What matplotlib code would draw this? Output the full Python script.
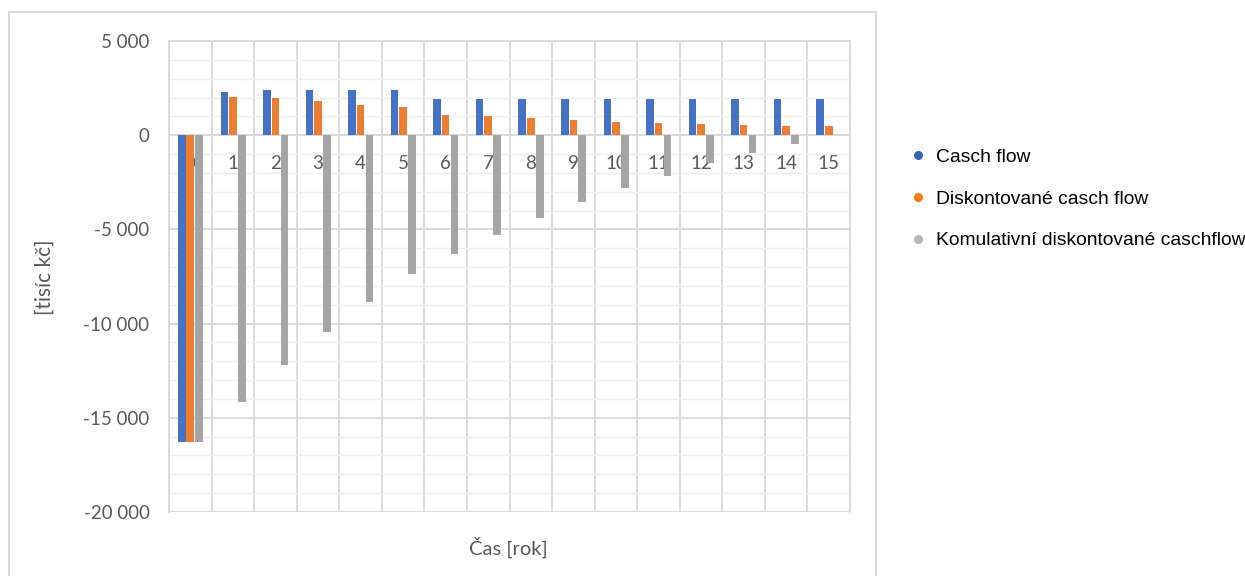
import matplotlib
matplotlib.use("Agg")
import matplotlib.pyplot as plt
import numpy as np
from matplotlib.ticker import MultipleLocator, FuncFormatter
from matplotlib.lines import Line2D
from matplotlib.patches import Rectangle

years = list(range(16))
cash_flow = [-16300, 2280, 2400, 2400, 2400, 2400, 1900, 1900, 1900, 1900, 1900, 1900, 1900, 1900, 1900, 1900]
disc_cash_flow = [-16300, 2030, 1975, 1800, 1600, 1480, 1060, 1000, 900, 820, 720, 650, 580, 530, 510, 470]
cum_disc_cash_flow = [-16300, -14180, -12200, -10460, -8840, -7380, -6310, -5280, -4380, -3545, -2820, -2165, -1490, -960, -480, -10]

series_names = ["Casch flow", "Diskontované casch flow", "Komulativní diskontované caschflow"]
bar_colors = ["#4472C4", "#ED7D31", "#A5A5A5"]
legend_colors = ["#3565b0", "#f57c0f", "#b5b5b5"]

tick_font = "Lato"
text_gray = "#595959"
grid_major = "#d9d9d9"
grid_minor = "#efefef"

fig = plt.figure(figsize=(12.45, 5.76), dpi=100)
ax = fig.add_axes([169/1245, 1-512/576, (850-169)/1245, (512-41)/576])

x = np.arange(len(years))
w = 0.178
offs = [-0.2, 0.0, 0.21]
for vals, c, o in zip([cash_flow, disc_cash_flow, cum_disc_cash_flow], bar_colors, offs):
    ax.bar(x + o, vals, width=w, color=c, zorder=3)

ax.set_xlim(-0.5, 15.5)
ax.set_ylim(-20000, 5000)
ax.yaxis.set_major_locator(MultipleLocator(5000))
ax.yaxis.set_minor_locator(MultipleLocator(1000))
ax.yaxis.set_major_formatter(FuncFormatter(lambda v, p: f"{v:,.0f}".replace(",", " ")))
ax.grid(which="major", axis="y", color=grid_major, lw=1.3, zorder=1)
ax.grid(which="minor", axis="y", color=grid_minor, lw=1.0, zorder=0)
for b in np.arange(-0.5, 16, 1.0):
    ax.axvline(b, color=grid_major, lw=1.3, zorder=1)

ax.set_xticks(x)
ax.set_xticklabels([str(y) for y in years])
ax.spines["bottom"].set_position(("data", 0))
for s in ax.spines.values():
    s.set_color(grid_major)
    s.set_linewidth(1.3)
ax.tick_params(axis="both", which="both", length=0)
ax.tick_params(axis="x", pad=14, labelsize=13.5, labelcolor=text_gray)
ax.tick_params(axis="y", pad=14, labelsize=13.5, labelcolor=text_gray)
for lab in ax.get_xticklabels() + ax.get_yticklabels():
    lab.set_fontfamily(tick_font)

fig.text(45/1245, 1-277/576, "[tisíc kč]", rotation=90, ha="center", va="center",
         fontsize=15, color=text_gray, family=tick_font)
fig.text(508/1245, 1-547/576, "Čas [rok]", ha="center", va="center",
         fontsize=14.5, color=text_gray, family=tick_font)

# outer chart frame
fig.patches.append(Rectangle((9/1245, -0.05), (876-9)/1245, 1-12/576+0.05,
                             transform=fig.transFigure, fill=False,
                             edgecolor=grid_major, lw=1.5))

handles = [Line2D([], [], ls="none", marker="o", markersize=6.5, color=c, markeredgewidth=0)
           for c in legend_colors]
fig.legend(handles, series_names, loc="center left", bbox_to_anchor=(908/1245, 1-199/576),
           frameon=False, prop={"family": "Liberation Sans", "size": 13.9},
           handlelength=1.0, handletextpad=0.45, labelspacing=1.25, borderpad=0, borderaxespad=0)

fig.savefig("out.png", dpi=100)
